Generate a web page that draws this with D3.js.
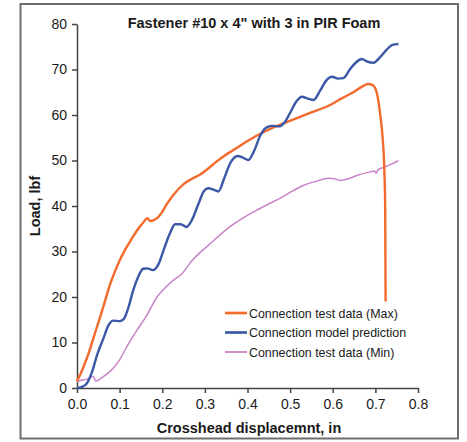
<!DOCTYPE html>
<html>
<head>
<meta charset="utf-8">
<script src="https://cdn.jsdelivr.net/npm/d3@7"></script>
<style>
  body { margin: 0; background: #fff; }
  svg text { font-family: "Liberation Sans", Arial, sans-serif; fill: #1a1a1a; }
</style>
</head>
<body>
<div id="chart"></div>
<script>
// Crosshead displacement (in) vs load (lbf)
var maxData = [[0,1.5],[0.005,2.4],[0.015,4.6],[0.028,7.8],[0.042,12],[0.055,15.8],[0.066,19.2],[0.077,22.6],[0.089,25.6],[0.1,28],[0.113,30.4],[0.127,32.6],[0.14,34.5],[0.155,36.3],[0.165,37.3],[0.172,36.7],[0.18,36.9],[0.19,37.5],[0.2,38.7],[0.21,40.3],[0.225,42.3],[0.25,44.8],[0.27,46],[0.289,46.9],[0.31,48.4],[0.328,49.8],[0.345,51],[0.367,52.3],[0.4,54.3],[0.437,56.2],[0.47,57.6],[0.516,59.3],[0.55,60.6],[0.594,62.2],[0.62,63.6],[0.65,65.1],[0.672,66.4],[0.683,66.8],[0.693,66.6],[0.703,65],[0.711,60.4],[0.717,55],[0.721,48],[0.723,40],[0.724,19]];

var modelData = [[0,0],[0.01,0.2],[0.023,1],[0.034,3.2],[0.048,7.5],[0.062,10.9],[0.074,13.8],[0.085,14.8],[0.1,14.7],[0.11,15.2],[0.12,17.5],[0.132,21.5],[0.144,24.5],[0.155,26.2],[0.165,26.3],[0.178,25.9],[0.19,27],[0.205,30.8],[0.218,34],[0.23,36],[0.243,36],[0.257,35.4],[0.27,37],[0.285,40.5],[0.298,43.3],[0.308,43.9],[0.32,43.6],[0.332,43.2],[0.345,46],[0.36,49.5],[0.377,51],[0.39,50.6],[0.402,50.1],[0.415,52],[0.43,55.5],[0.445,57.3],[0.46,57.6],[0.475,57.5],[0.488,58.5],[0.5,60.5],[0.515,63],[0.528,64],[0.542,63.6],[0.555,63.3],[0.57,65.3],[0.585,67.6],[0.598,68.4],[0.612,68],[0.625,68.1],[0.64,70],[0.655,71.6],[0.668,72.3],[0.682,71.7],[0.696,71.5],[0.71,72.6],[0.725,74.2],[0.74,75.4],[0.754,75.6]];

var minData = [[0,1.4],[0.015,1.8],[0.03,2.1],[0.037,2.6],[0.04,2.3],[0.044,1.5],[0.06,2.4],[0.077,3.6],[0.1,6.2],[0.12,9.6],[0.14,12.6],[0.164,16],[0.185,19.6],[0.21,22.3],[0.225,23.6],[0.245,25],[0.27,28],[0.289,29.8],[0.31,31.5],[0.335,33.6],[0.367,36],[0.39,37.4],[0.42,39],[0.453,40.6],[0.48,41.9],[0.5,43],[0.531,44.5],[0.56,45.4],[0.59,46.1],[0.605,46],[0.617,45.6],[0.64,46.1],[0.66,46.8],[0.688,47.5],[0.698,47.7],[0.702,47.2],[0.706,48],[0.72,48.5],[0.74,49.3],[0.754,50]];

var xTicks = [0, 0.1, 0.2, 0.3, 0.4, 0.5, 0.6, 0.7, 0.8];
var yTicks = [0, 10, 20, 30, 40, 50, 60, 70, 80];

var seriesNames = ['Connection test data (Max)', 'Connection model prediction', 'Connection test data (Min)'];
var seriesColors = ['#f26a2c', '#3b58a6', '#c884c6'];
var seriesWidths = [2.4, 2.4, 1.5];

var width = 467, height = 442;
var margin = {top: 24, right: 49, bottom: 54, left: 77};

var svg = d3.select('#chart')
  .append('svg')
  .attr('width', width)
  .attr('height', height);

// outer frame
svg.append('rect')
  .attr('x', 20.5)
  .attr('y', 4)
  .attr('width', 437.5)
  .attr('height', 434.5)
  .attr('fill', '#fff')
  .attr('stroke', '#6e6e6e')
  .attr('stroke-width', 2);

var xScale = d3.scaleLinear()
  .domain([0, 0.8])
  .range([margin.left, width - margin.right]);

var yScale = d3.scaleLinear()
  .domain([0, 80])
  .range([height - margin.bottom, margin.top]);

var xAxis = d3.axisBottom(xScale)
  .tickValues(xTicks)
  .tickFormat(d3.format('.1f'))
  .tickSize(5)
  .tickSizeOuter(0)
  .tickPadding(6);

var yAxis = d3.axisLeft(yScale)
  .tickValues(yTicks)
  .tickSize(5)
  .tickSizeOuter(0)
  .tickPadding(5);

svg.append('g')
  .attr('class', 'x-axis')
  .attr('transform', `translate(0,${height - margin.bottom})`)
  .call(xAxis)
  .call(g => g.selectAll('path, line').attr('stroke', '#444').attr('stroke-width', 1.5))
  .selectAll('text')
  .style('font-size', '14px')
  .attr('fill', '#1a1a1a');

svg.append('g')
  .attr('class', 'y-axis')
  .attr('transform', `translate(${margin.left},0)`)
  .call(yAxis)
  .call(g => g.selectAll('path, line').attr('stroke', '#444').attr('stroke-width', 1.5))
  .selectAll('text')
  .style('font-size', '14px')
  .attr('fill', '#1a1a1a');

var line = d3.line()
  .x(d => xScale(d[0]))
  .y(d => yScale(d[1]))
  .curve(d3.curveMonotoneX);

// draw min first, then max, then model on top
svg.append('path')
  .datum(minData)
  .attr('d', line)
  .attr('fill', 'none')
  .attr('stroke', seriesColors[2])
  .attr('stroke-width', seriesWidths[2]);

svg.append('path')
  .datum(maxData)
  .attr('d', line)
  .attr('fill', 'none')
  .attr('stroke', seriesColors[0])
  .attr('stroke-width', seriesWidths[0])
  .attr('stroke-linejoin', 'round');

svg.append('path')
  .datum(modelData)
  .attr('d', line)
  .attr('fill', 'none')
  .attr('stroke', seriesColors[1])
  .attr('stroke-width', seriesWidths[1]);

// title
svg.append('text')
  .attr('x', 254)
  .attr('y', 28)
  .attr('text-anchor', 'middle')
  .style('font-size', '14.5px')
  .style('font-weight', 'bold')
  .text('Fastener #10 x 4" with 3 in PIR Foam');

// axis titles
svg.append('text')
  .attr('x', 249)
  .attr('y', 433)
  .attr('text-anchor', 'middle')
  .style('font-size', '14.5px')
  .style('font-weight', 'bold')
  .text('Crosshead displacemnt, in');

svg.append('text')
  .attr('transform', 'translate(40,206) rotate(-90)')
  .attr('text-anchor', 'middle')
  .style('font-size', '14.5px')
  .style('font-weight', 'bold')
  .text('Load, lbf');

// legend
var legend = svg.append('g')
  .attr('transform', 'translate(225,313)');

legend.selectAll('line')
  .data(seriesNames)
  .enter()
  .append('line')
  .attr('x1', 0)
  .attr('x2', 22)
  .attr('y1', (d, i) => i * 19.5)
  .attr('y2', (d, i) => i * 19.5)
  .attr('stroke', (d, i) => seriesColors[i])
  .attr('stroke-width', (d, i) => seriesWidths[i] + 0.3);

legend.selectAll('text')
  .data(seriesNames)
  .enter()
  .append('text')
  .attr('x', 24)
  .attr('y', (d, i) => i * 19.5 + 4.5)
  .style('font-size', '12.4px')
  .text(d => d);
</script>
</body>
</html>
